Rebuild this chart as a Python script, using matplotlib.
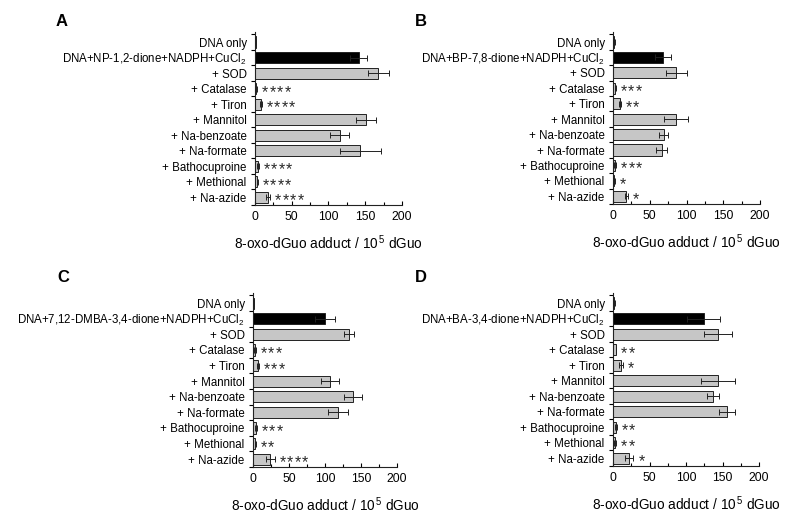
import numpy as np
import matplotlib
matplotlib.use("Agg")
import matplotlib.pyplot as plt
from matplotlib.ticker import MultipleLocator, FixedLocator

plt.rcParams['font.family'] = ['Liberation Sans', 'DejaVu Sans']
plt.rcParams['mathtext.fontset'] = 'custom'
plt.rcParams['mathtext.rm'] = 'Liberation Sans'
plt.rcParams['mathtext.it'] = 'Liberation Sans:italic'

# --- Data ---
treatments = ["DNA only", None, "+ SOD", "+ Catalase", "+ Tiron", "+ Mannitol",
              "+ Na-benzoate", "+ Na-formate", "+ Bathocuproine",
              "+ Methional", "+ Na-azide"]

panel_letters = ["A", "B", "C", "D"]
main_labels = ["DNA+NP-1,2-dione+NADPH+CuCl$_2$",
               "DNA+BP-7,8-dione+NADPH+CuCl$_2$",
               "DNA+7,12-DMBA-3,4-dione+NADPH+CuCl$_2$",
               "DNA+BA-3,4-dione+NADPH+CuCl$_2$"]

vals_a = [1, 141, 168, 2, 8, 151, 115, 143, 4, 3, 18]
errs_a = [0.5, 12, 14, 1, 1, 13, 12.5, 28, 1, 0.5, 2.5]
stars_a = [0, 0, 0, 4, 4, 0, 0, 0, 4, 4, 4]

vals_b = [2, 68, 86, 3, 9, 86, 69, 66, 3, 2, 18]
errs_b = [0.5, 11.5, 14, 0.5, 1.5, 16.5, 6, 7, 1, 1, 2]
stars_b = [0, 0, 0, 3, 2, 0, 0, 0, 3, 1, 1]

vals_c = [1, 100, 133, 3, 7, 107, 139, 118, 4, 3, 24]
errs_c = [0.5, 14, 7, 1, 1, 12, 12, 14, 1, 0.5, 6]
stars_c = [0, 0, 0, 3, 3, 0, 0, 0, 3, 2, 4]

vals_d = [2, 124, 144, 4, 11, 144, 137, 156, 4, 3, 22]
errs_d = [0.5, 22, 19, 0.5, 3, 23, 8, 11, 1, 1, 6]
stars_d = [0, 0, 0, 2, 1, 0, 0, 0, 2, 2, 1]

all_vals = [vals_a, vals_b, vals_c, vals_d]
all_errs = [errs_a, errs_b, errs_c, errs_d]
all_stars = [stars_a, stars_b, stars_c, stars_d]

# axes boxes in pixels: (x0, x1, ytop, ybottom)
boxes = [(255, 402, 32, 205), (613, 760, 32, 204),
         (253, 397, 293, 467), (613, 759, 293, 466)]
letter_pos = [(62, 22), (421, 22), (63, 278), (421, 278)]

W, H = 800, 524
fig = plt.figure(figsize=(8, 5.24), dpi=100)

for k in range(4):
    x0, x1, yt, yb = boxes[k]
    ax = fig.add_axes([x0 / W, 1 - yb / H, (x1 - x0) / W, (yb - yt) / H])
    vals = np.array(all_vals[k], dtype=float)
    errs = np.array(all_errs[k], dtype=float)
    y = np.arange(len(vals))
    colors = ["#c6c6c6"] * len(vals)
    colors[1] = "black"
    ax.barh(y, vals, height=0.72, color=colors, edgecolor="#222222", linewidth=0.7)
    ax.errorbar(vals, y, xerr=errs, fmt="none", ecolor="#222222",
                elinewidth=0.7, capsize=2, capthick=0.7)
    # significance asterisks, one glyph each at fixed spacing
    for i, n in enumerate(all_stars[k]):
        for j in range(n):
            ax.annotate("*", xy=(vals[i] + errs[i], y[i]),
                        xytext=(3.5 + j * 5.4, -2.6), textcoords="offset points",
                        fontsize=11.5, color="#2a2a2a", ha="left", va="center")

    labels = list(treatments)
    labels[1] = main_labels[k]
    ax.set_yticks(y)
    ax.set_yticklabels(labels, fontsize=8.3)
    ax.yaxis.set_minor_locator(FixedLocator(np.arange(-0.5, len(vals), 1.0)))
    ax.tick_params(axis="y", which="major", length=0, pad=6)
    ax.tick_params(axis="y", which="minor", length=3, width=0.8, direction="out")
    ax.set_ylim(len(vals) - 0.5, -0.65)

    ax.set_xlim(0, 200)
    ax.xaxis.set_major_locator(MultipleLocator(50))
    ax.xaxis.set_minor_locator(MultipleLocator(25))
    ax.tick_params(axis="x", which="major", direction="in", length=3, width=0.8,
                   labelsize=8.7, pad=4)
    ax.tick_params(axis="x", which="minor", direction="in", length=2, width=0.8)
    ax.set_xlabel("8-oxo-dGuo adduct / 10$^{\\,5}$ dGuo", fontsize=9.8, labelpad=8)

    for sp in ["top", "right"]:
        ax.spines[sp].set_visible(False)
    for sp in ["left", "bottom"]:
        ax.spines[sp].set_linewidth(0.8)
        ax.spines[sp].set_color("#222222")

    lx, ly = letter_pos[k]
    fig.text(lx / W, 1 - ly / H, panel_letters[k], fontsize=12, fontweight="bold",
             ha="center", va="center")

fig.savefig("out.png", dpi=100)
